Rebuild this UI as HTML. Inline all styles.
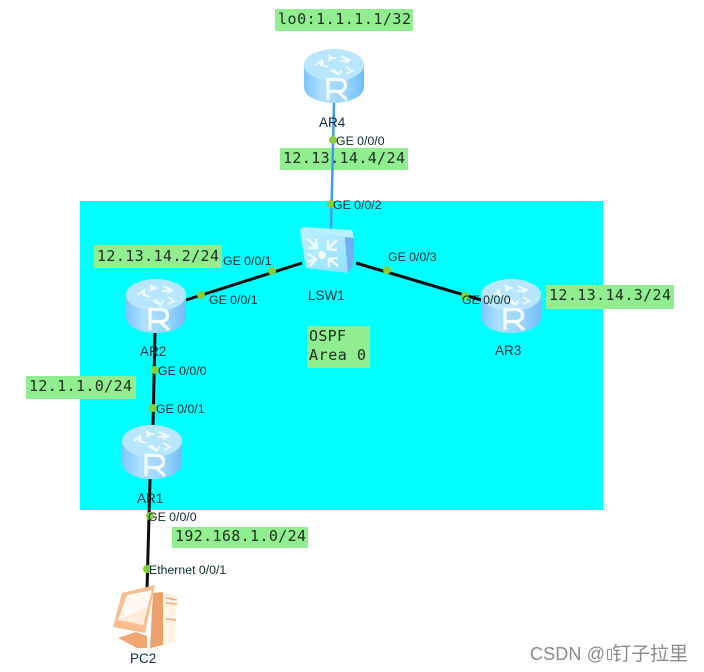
<!DOCTYPE html>
<html><head><meta charset="utf-8"><style>
html,body{margin:0;padding:0;background:#fff}
svg{display:block;filter:blur(.35px)}
.l{font:12.3px "Liberation Sans",sans-serif;fill:#0c2a2a}
.n{font:13.5px "Liberation Sans",sans-serif;fill:#0c2c3c}
.m{font:15px "DejaVu Sans Mono",monospace;fill:#222e22}
</style></head><body>
<svg width="704" height="672" viewBox="0 0 704 672" xmlns="http://www.w3.org/2000/svg">
<defs>
<linearGradient id="rb" x1="0" x2="1" y1="0" y2="0"><stop offset="0" stop-color="#7cc6fa"/><stop offset=".3" stop-color="#b0e0ff"/><stop offset=".7" stop-color="#98d4fc"/><stop offset="1" stop-color="#72bcf6"/></linearGradient>
<linearGradient id="sw" x1="0" x2="1" y1="0" y2="1"><stop offset="0" stop-color="#c0f0ff"/><stop offset="1" stop-color="#90e0ff"/></linearGradient>
<g id="router">
<path d="M0 16V38C0 47 13 54 30 54S60 47 60 38V16Z" fill="url(#rb)"/>
<ellipse cx="30" cy="16" rx="30" ry="16" fill="#b8e6fc"/>
<g stroke="#f0faff" stroke-width="1.800" fill="none">
<path d="M24 6l5 3-5 3M24 9h8"/>
<path d="M37 7l9 4-5 3M46 11l-10 1"/>
<path d="M12 16l6-5 1 5M18 11l-1 5 7 2"/>
<path d="M26 21l9 5 2-5M35 26l-6-6"/>
<path d="M42 18l6 4-6 3"/>
</g>
<path d="M24 51V30.500H34Q41.500 30.500 41.500 36.500T34 42.500H24M34 42.500L43 51" fill="none" stroke="#f4fcff" stroke-width="3.200"/>
</g>
</defs>

<rect x="80" y="201" width="523" height="309" fill="#00ffff"/>

<g fill="#90ee90">
<rect x="275" y="9" width="138" height="22"/>
<rect x="280" y="148" width="128" height="22"/>
<rect x="94" y="245" width="128" height="23"/>
<rect x="546" y="285" width="128" height="24"/>
<rect x="26" y="376" width="110" height="23"/>
<rect x="172" y="527" width="136" height="21"/>
<rect x="307" y="326" width="63" height="42"/>
</g>

<path d="M334 103L331 229" stroke="#3f9cf5" stroke-width="2.500" fill="none"/>
<g stroke="#0a0a0a" stroke-width="3" fill="none">
<path d="M186 300L302 263"/>
<path d="M356 263L481 300"/>
<path d="M155 333L153 426"/>
<path d="M150 479L147 590"/>
</g>

<use href="#router" x="304" y="49"/>
<use href="#router" x="126" y="279"/>
<use href="#router" x="481" y="279"/>
<use href="#router" x="122" y="425"/>

<g>
<path d="M303 227L352 230L354 238L345 237L300 230Z" fill="#b8f0ff"/>
<path d="M300 230L345 237L348 273L306 268Z" fill="url(#sw)"/>
<path d="M345 237L354 238L353 266L348 273Z" fill="#70b0f4"/>
<circle cx="322" cy="255" r="4" fill="#f2fcff"/>
<g stroke="#f0fbff" stroke-width="2.500" fill="none">
<path d="M308 239L317 248M308 248L317 248L316 239"/>
<path d="M337 240L328 249M328 240L328 249L337 250"/>
<path d="M307 262L316 259M308 254L316 259L310 266"/>
<path d="M338 266L329 259M329 267L329 259L338 258"/>
</g>
</g>

<g>
<path d="M153 593L177 595L175 642L153 648Z" fill="#fff3e4"/>
<path d="M153 593L163 592L163 645L150 648Z" fill="#eca06c"/>
<path d="M166 598L177 600M166 603L177 604M166 619L176 620" stroke="#f0ab78" stroke-width="1.500"/>
<path d="M122 593L155 585L145 633L113 627Z" fill="#f9bd8e"/>
<path d="M127 595L152 590L143 625L118 620Z" fill="#fff9f2"/>
<path d="M118 620L147 607L143 625Z" fill="#fdecd9"/>
<path d="M118 638L136 632L147 636L147 648L137 648Z" fill="#f1a672"/>
</g>

<g fill="#84d03a">
<circle cx="333" cy="140" r="4"/>
<circle cx="331" cy="204" r="4"/>
<circle cx="272" cy="271" r="4"/>
<circle cx="201" cy="295" r="4"/>
<circle cx="387" cy="270" r="4"/>
<circle cx="465" cy="296" r="4"/>
<circle cx="155" cy="370" r="4"/>
<circle cx="153" cy="408" r="4"/>
<circle cx="150" cy="516" r="4"/>
<circle cx="147" cy="569" r="4"/>
</g>

<g class="m">
<text class="m" x="278" y="24" textLength="133">lo0:1.1.1.1/32</text>
<text class="m" x="283" y="163" textLength="122">12.13.14.4/24</text>
<text class="m" x="97" y="261" textLength="122">12.13.14.2/24</text>
<text class="m" x="549" y="300" textLength="122">12.13.14.3/24</text>
<text class="m" x="29" y="391" textLength="103">12.1.1.0/24</text>
<text class="m" x="175" y="541" textLength="131">192.168.1.0/24</text>
<text class="m" x="309" y="341" textLength="37">OSPF</text>
<text class="m" x="309" y="360" textLength="57">Area 0</text>
</g>

<text class="l" x="336" y="145">GE 0/0/0</text>
<text class="l" x="333" y="209">GE 0/0/2</text>
<text class="l" x="223" y="265">GE 0/0/1</text>
<text class="l" x="209" y="304">GE 0/0/1</text>
<text class="l" x="388" y="261">GE 0/0/3</text>
<text class="l" x="462" y="304">GE 0/0/0</text>
<text class="l" x="158" y="375">GE 0/0/0</text>
<text class="l" x="156" y="413">GE 0/0/1</text>
<text class="l" x="148" y="521">GE 0/0/0</text>
<text class="l" x="149" y="574">Ethernet 0/0/1</text>

<text class="n" x="319" y="127">AR4</text>
<text class="n" x="308" y="300">LSW1</text>
<text class="n" x="140" y="356">AR2</text>
<text class="n" x="495" y="355">AR3</text>
<text class="n" x="137" y="503">AR1</text>
<text class="n" x="130" y="663">PC2</text>

<text x="530" y="660" font-family="'Liberation Sans','Noto Sans CJK SC',sans-serif" font-size="18" fill="#8a8a8a" textLength="75">CSDN @</text>
<rect x="607.500" y="649.500" width="4" height="10" fill="none" stroke="#999" stroke-width="1"/>
<text x="612" y="660" font-family="'Liberation Sans','Noto Sans CJK SC',sans-serif" font-size="19" fill="#8a8a8a">钉子拉里</text>
</svg>
</body></html>
